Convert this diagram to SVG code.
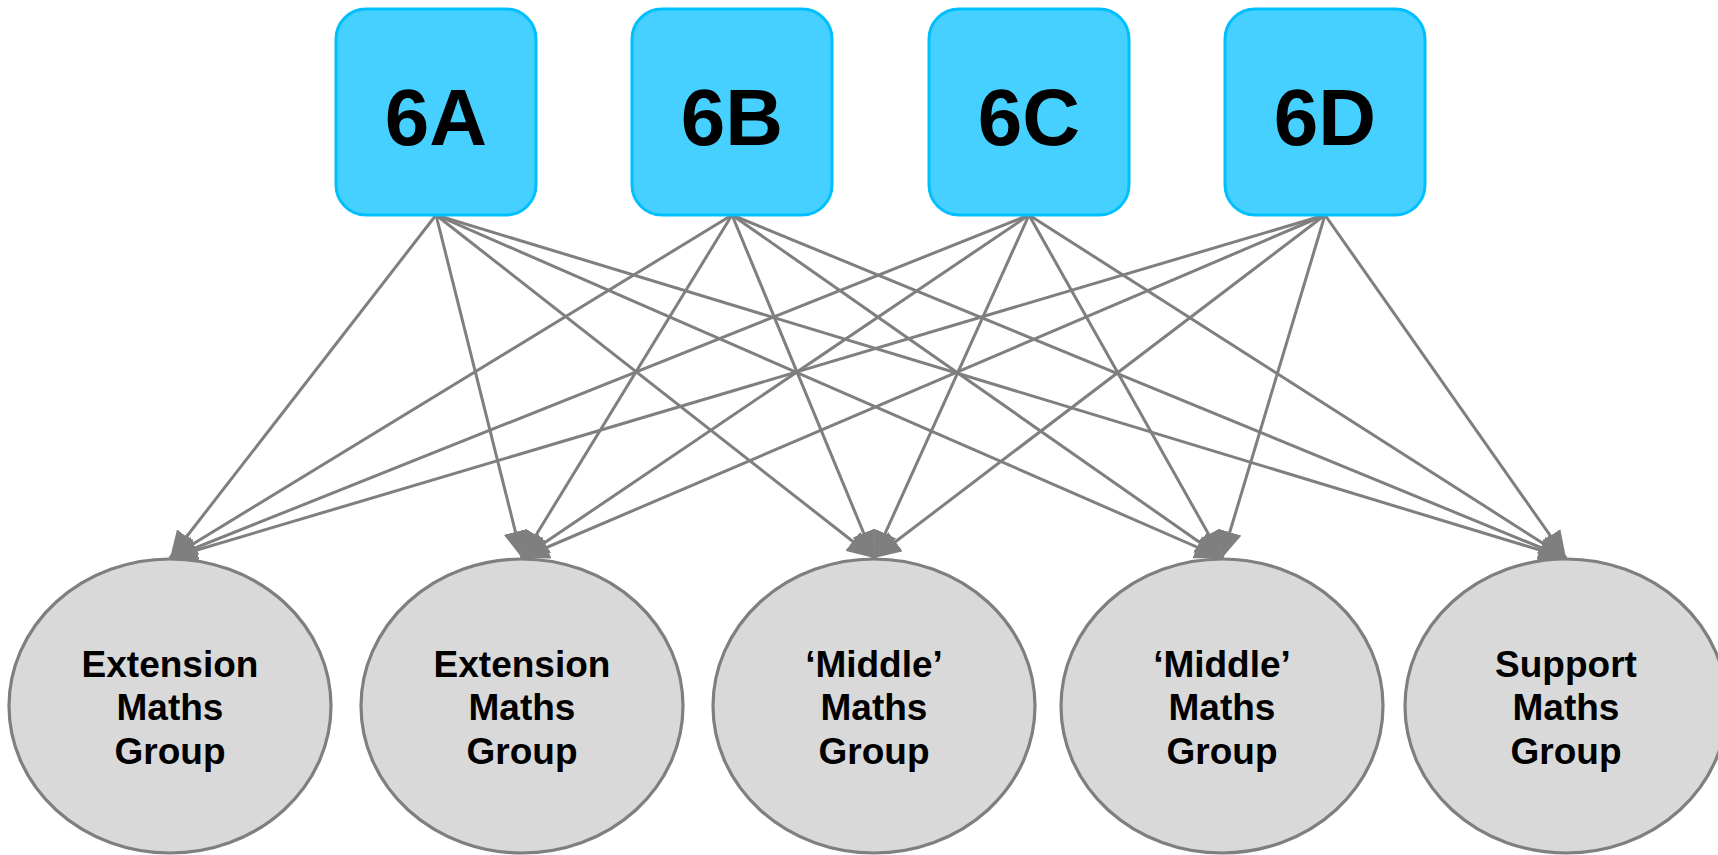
<svg xmlns="http://www.w3.org/2000/svg" width="1718" height="855" viewBox="0 0 1718 855">
  <defs>
    <marker id="arrow" viewBox="0 0 9 8" refX="9" refY="4" markerWidth="9" markerHeight="8" markerUnits="strokeWidth" orient="auto">
      <path d="M0,0 L9,4 L0,8 z" fill="#7f7f7f"/>
    </marker>
  </defs>
  <style>
    .cls { fill: #46d0ff; stroke: #00bfff; stroke-width: 3; }
    .cls-t { font-family: "Liberation Sans", Arial, sans-serif; font-weight: bold; font-size: 80px; fill: #000; text-anchor: middle; }
    .grp { fill: #d9d9d9; stroke: #7f7f7f; stroke-width: 3.2; }
    .grp-t { font-family: "Liberation Sans", Arial, sans-serif; font-weight: bold; font-size: 37px; fill: #000; text-anchor: middle; }
    .edge { stroke: #7f7f7f; stroke-width: 3; fill: none; marker-end: url(#arrow); }
  </style>
  <rect width="1718" height="855" fill="#ffffff"/>

  <!-- connectors: every class to every maths group -->
  <g id="connectors">
    <line class="edge" x1="436" y1="215" x2="170" y2="558"/>
    <line class="edge" x1="436" y1="215" x2="522" y2="558"/>
    <line class="edge" x1="436" y1="215" x2="874" y2="558"/>
    <line class="edge" x1="436" y1="215" x2="1222" y2="558"/>
    <line class="edge" x1="436" y1="215" x2="1566" y2="558"/>

    <line class="edge" x1="732" y1="215" x2="170" y2="558"/>
    <line class="edge" x1="732" y1="215" x2="522" y2="558"/>
    <line class="edge" x1="732" y1="215" x2="874" y2="558"/>
    <line class="edge" x1="732" y1="215" x2="1222" y2="558"/>
    <line class="edge" x1="732" y1="215" x2="1566" y2="558"/>

    <line class="edge" x1="1029" y1="215" x2="170" y2="558"/>
    <line class="edge" x1="1029" y1="215" x2="522" y2="558"/>
    <line class="edge" x1="1029" y1="215" x2="874" y2="558"/>
    <line class="edge" x1="1029" y1="215" x2="1222" y2="558"/>
    <line class="edge" x1="1029" y1="215" x2="1566" y2="558"/>

    <line class="edge" x1="1325" y1="215" x2="170" y2="558"/>
    <line class="edge" x1="1325" y1="215" x2="522" y2="558"/>
    <line class="edge" x1="1325" y1="215" x2="874" y2="558"/>
    <line class="edge" x1="1325" y1="215" x2="1222" y2="558"/>
    <line class="edge" x1="1325" y1="215" x2="1566" y2="558"/>
  </g>

  <!-- classes -->
  <g id="class-6A">
    <rect class="cls" x="336" y="9" width="200" height="206" rx="30"/>
    <text class="cls-t" x="436" y="145">6A</text>
  </g>
  <g id="class-6B">
    <rect class="cls" x="632" y="9" width="200" height="206" rx="30"/>
    <text class="cls-t" x="732" y="145">6B</text>
  </g>
  <g id="class-6C">
    <rect class="cls" x="929" y="9" width="200" height="206" rx="30"/>
    <text class="cls-t" x="1029" y="145">6C</text>
  </g>
  <g id="class-6D">
    <rect class="cls" x="1225" y="9" width="200" height="206" rx="30"/>
    <text class="cls-t" x="1325" y="145">6D</text>
  </g>

  <!-- maths groups -->
  <g id="group-extension-1">
    <ellipse class="grp" cx="170" cy="706" rx="161" ry="147"/>
    <text class="grp-t" x="170" y="677">Extension</text>
    <text class="grp-t" x="170" y="720">Maths</text>
    <text class="grp-t" x="170" y="764">Group</text>
  </g>
  <g id="group-extension-2">
    <ellipse class="grp" cx="522" cy="706" rx="161" ry="147"/>
    <text class="grp-t" x="522" y="677">Extension</text>
    <text class="grp-t" x="522" y="720">Maths</text>
    <text class="grp-t" x="522" y="764">Group</text>
  </g>
  <g id="group-middle-1">
    <ellipse class="grp" cx="874" cy="706" rx="161" ry="147"/>
    <text class="grp-t" x="874" y="677">‘Middle’</text>
    <text class="grp-t" x="874" y="720">Maths</text>
    <text class="grp-t" x="874" y="764">Group</text>
  </g>
  <g id="group-middle-2">
    <ellipse class="grp" cx="1222" cy="706" rx="161" ry="147"/>
    <text class="grp-t" x="1222" y="677">‘Middle’</text>
    <text class="grp-t" x="1222" y="720">Maths</text>
    <text class="grp-t" x="1222" y="764">Group</text>
  </g>
  <g id="group-support">
    <ellipse class="grp" cx="1566" cy="706" rx="161" ry="147"/>
    <text class="grp-t" x="1566" y="677">Support</text>
    <text class="grp-t" x="1566" y="720">Maths</text>
    <text class="grp-t" x="1566" y="764">Group</text>
  </g>
</svg>
